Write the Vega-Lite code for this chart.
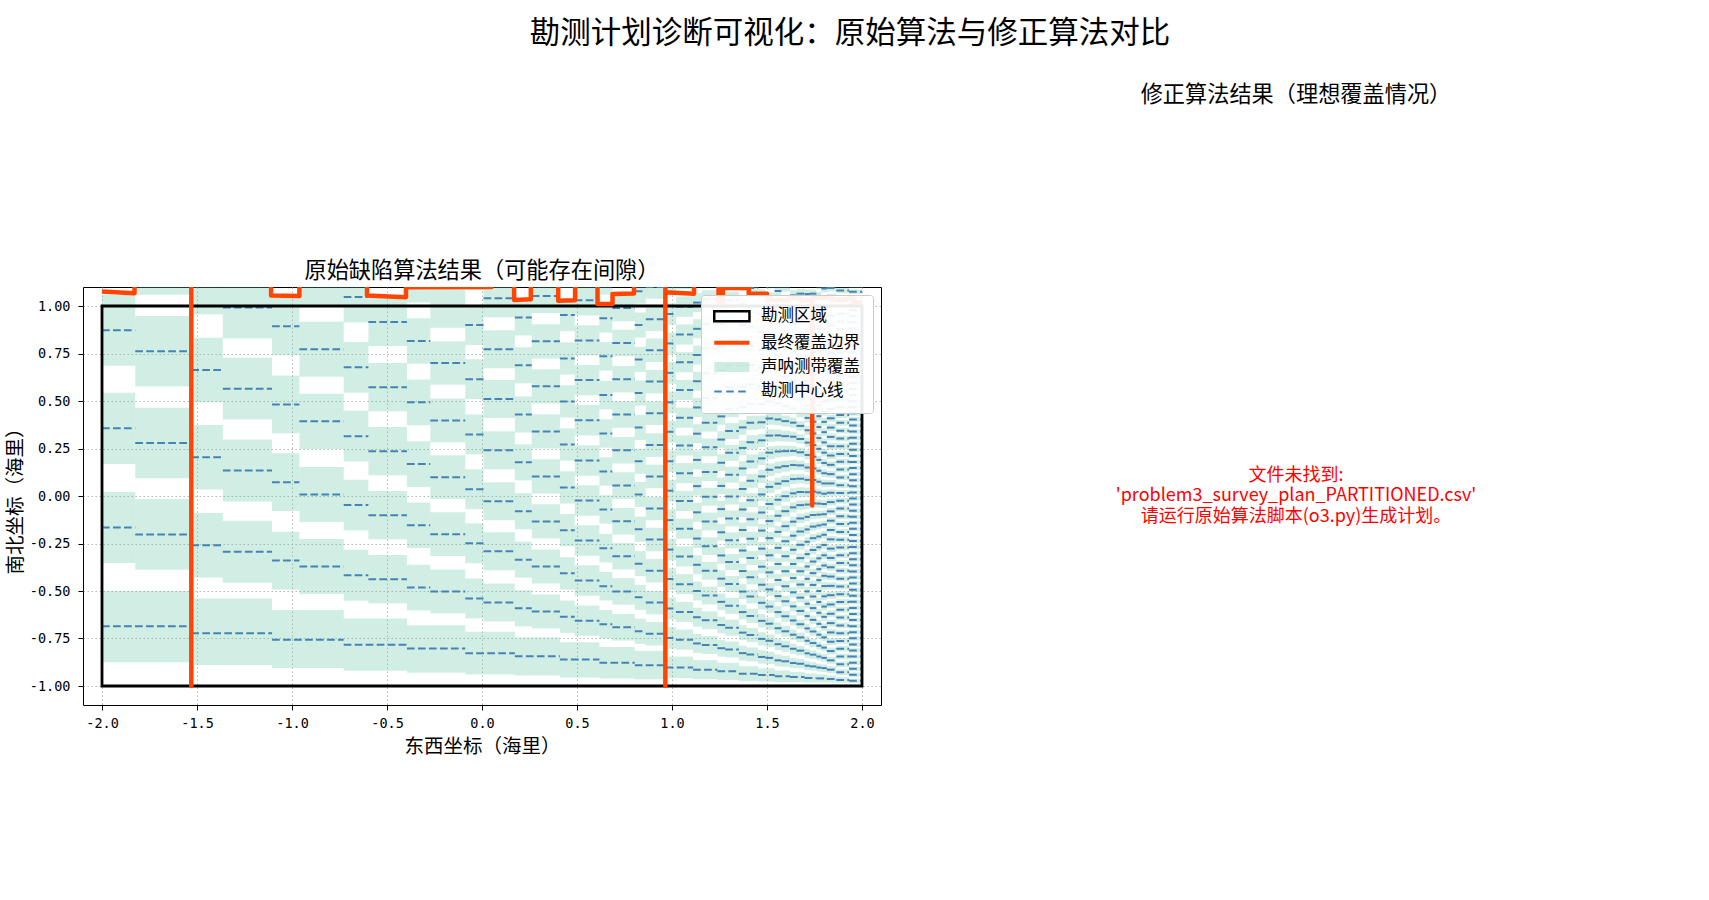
{
"$schema": "https://vega.github.io/schema/vega-lite/v6.json",
"background": "white",
"padding": {"left": 4, "top": 19, "right": 5, "bottom": 5},
"title": {"text": "勘测计划诊断可视化：原始算法与修正算法对比", "fontSize": 30.5, "font": "Noto Sans CJK SC", "fontWeight": "normal", "anchor": "middle", "offset": 34, "color": "black"},
"config": {"font": "Noto Sans CJK SC", "title": {"fontWeight": "normal", "color": "black", "font": "Noto Sans CJK SC"},
 "legend": {"title": null, "orient": "top-right", "offset": 8, "padding": 13, "rowPadding": 7.4, "fillColor": "rgba(255,255,255,0.92)", "strokeColor": "#cccccc", "cornerRadius": 3, "labelFont": "Noto Sans CJK SC", "labelFontSize": 16.5, "labelColor": "black", "labelOffset": 30.5, "labelLimit": 300, "symbolSize": 256}},
"spacing": 16,
"bounds": "flush",
"resolve": {"scale": {"color": "independent"}, "legend": {"color": "independent"}},
"hconcat": [
{
"width": 798, "height": 418,
"title": {"text": "原始缺陷算法结果（可能存在间隙）", "fontSize": 22.2, "offset": 5},
"view": {"stroke": "black", "strokeWidth": 1},
"data": {"values": "k,lo,hi,c\nA,.685,1.059,.872\nA,.169,.543,.356\nA,-.353,.021,-.166\nB,1.059,1.431,1.245\nB,.576,.948,.762\nB,.093,.465,.279\nB,-.388,-.016,-.202\nab,-.875,-.5,-.686\nC,.955,1.295,1.125\nC,.493,.833,.663\nC,.034,.374,.204\nC,-.429,-.089,-.259\nD,.829,1.155,.992\nD,.402,.728,.565\nD,-.029,.297,.134\nD,-.456,-.13,-.293\ncd,-.89,-.54,-.723\nE,.741,1.045,.893\nE,.33,.634,.482\nE,-.079,.225,.073\nE,-.492,-.188,-.34\nF,1.006,1.296,1.151\nF,.627,.917,.772\nF,.248,.538,.393\nF,-.137,.153,.008\nF,-.516,-.226,-.371\nef,-.905,-.6,-.756\nG,.913,1.181,1.047\nG,.543,.811,.677\nG,.181,.449,.315\nG,-.182,.086,-.048\nG,-.551,-.283,-.417\nH,.789,1.043,.916\nH,.446,.7,.573\nH,.109,.363,.236\nH,-.228,.026,-.101\nH,-.565,-.311,-.438\ngh,-.92,-.645,-.783\nI,1.019,1.259,1.139\nI,.696,.936,.816\nI,.373,.613,.493\nI,.048,.288,.168\nI,-.274,-.034,-.154\nI,-.602,-.362,-.482\nJ,.885,1.115,1\nJ,.585,.815,.7\nJ,.283,.513,.398\nJ,-.016,.214,.099\nJ,-.316,-.086,-.201\nJ,-.617,-.387,-.502\nij,-.93,-.68,-.803\nK,1.085,1.295,1.19\nK,.795,1.005,.9\nK,.51,.72,.615\nK,.219,.429,.324\nK,-.069,.141,.036\nK,-.354,-.144,-.249\nK,-.644,-.434,-.539\nL,.941,1.141,1.041\nL,.672,.872,.772\nL,.41,.61,.51\nL,.141,.341,.241\nL,-.127,.073,-.027\nL,-.391,-.191,-.291\nL,-.661,-.461,-.561\nkl,-.94,-.715,-.828\nM,.845,1.035,.94\nM,.593,.783,.688\nM,.334,.524,.429\nM,.082,.272,.177\nM,-.175,.015,-.08\nM,-.43,-.24,-.335\nM,-.686,-.496,-.591\nN,.963,1.143,1.053\nN,.724,.904,.814\nN,.487,.667,.577\nN,.25,.43,.34\nN,.013,.193,.103\nN,-.224,-.044,-.134\nN,-.461,-.281,-.371\nN,-.698,-.518,-.608\nmn,-.945,-.745,-.844\nO,1.095,1.265,1.18\nO,.868,1.038,.953\nO,.639,.809,.724\nO,.413,.583,.498\nO,.186,.356,.271\nO,-.04,.13,.045\nO,-.265,-.095,-.18\nO,-.492,-.322,-.407\nO,-.72,-.55,-.635\nP,.95,1.11,1.03\nP,.739,.899,.819\nP,.53,.69,.61\nP,.319,.479,.399\nP,.107,.267,.187\nP,-.104,.056,-.024\nP,-.314,-.154,-.234\nP,-.525,-.365,-.445\nP,-.736,-.576,-.656\nop,-.955,-.77,-.861\nQ,1.06,1.21,1.135\nQ,.86,1.01,.935\nQ,.66,.81,.735\nQ,.456,.606,.531\nQ,.254,.404,.329\nQ,.054,.204,.129\nQ,-.146,.004,-.071\nQ,-.35,-.2,-.275\nQ,-.55,-.4,-.475\nQ,-.75,-.6,-.675\nR,.92,1.06,.99\nR,.735,.875,.805\nR,.545,.685,.615\nR,.359,.499,.429\nR,.171,.311,.241\nR,-.015,.125,.055\nR,-.203,-.063,-.133\nR,-.387,-.247,-.317\nR,-.572,-.432,-.502\nR,-.761,-.621,-.691\nqr,-.96,-.795,-.877\nS,1.012,1.144,1.078\nS,.834,.966,.9\nS,.653,.785,.719\nS,.476,.608,.542\nS,.295,.427,.361\nS,.117,.249,.183\nS,-.058,.074,.008\nS,-.241,-.109,-.175\nS,-.422,-.29,-.356\nS,-.599,-.467,-.533\nS,-.778,-.646,-.712\nT,1.038,1.162,1.1\nT,.868,.992,.93\nT,.705,.829,.767\nT,.54,.664,.602\nT,.374,.498,.436\nT,.206,.33,.268\nT,.041,.165,.103\nT,-.128,-.004,-.066\nT,-.291,-.167,-.229\nT,-.455,-.331,-.393\nT,-.623,-.499,-.561\nT,-.787,-.663,-.725\nst,-.965,-.815,-.891\nb1,-.959,-.845,-.902\nc1,-.804,-.69,-.747\nc1,-.649,-.535,-.592\nc1,-.494,-.38,-.437\nc1,-.339,-.225,-.282\nc1,-.184,-.07,-.127\nc1,-.029,.085,.028\nc1,.126,.24,.183\nc1,.281,.395,.338\nc1,.436,.55,.493\nc1,.591,.705,.648\nc1,.746,.86,.803\nc1,.901,1.015,.958\nc1,1.056,1.17,1.113\nc2,-.809,-.703,-.756\nc2,-.663,-.557,-.61\nc2,-.517,-.411,-.464\nc2,-.371,-.265,-.318\nc2,-.225,-.119,-.172\nc2,-.079,.027,-.026\nc2,.067,.173,.12\nc2,.213,.319,.266\nc2,.359,.465,.412\nc2,.505,.611,.558\nc2,.651,.757,.704\nc2,.797,.903,.85\nc2,.943,1.049,.996\nc2,1.089,1.195,1.142\nb2,-.964,-.864,-.914\nc3,-.826,-.726,-.776\nc3,-.688,-.588,-.638\nc3,-.55,-.45,-.5\nc3,-.412,-.312,-.362\nc3,-.274,-.174,-.224\nc3,-.136,-.036,-.086\nc3,.002,.102,.052\nc3,.14,.24,.19\nc3,.278,.378,.328\nc3,.416,.516,.466\nc3,.554,.654,.604\nc3,.692,.792,.742\nc3,.83,.93,.88\nc3,.968,1.068,1.018\nc4,-.831,-.737,-.784\nc4,-.701,-.607,-.654\nc4,-.571,-.477,-.524\nc4,-.441,-.347,-.394\nc4,-.311,-.217,-.264\nc4,-.181,-.087,-.134\nc4,-.051,.043,-.004\nc4,.079,.173,.126\nc4,.209,.303,.256\nc4,.339,.433,.386\nc4,.469,.563,.516\nc4,.599,.693,.646\nc4,.729,.823,.776\nc4,.859,.953,.906\nc4,.989,1.083,1.036\nb3,-.968,-.878,-.923\nc5,-.845,-.757,-.801\nc5,-.723,-.635,-.679\nc5,-.601,-.513,-.557\nc5,-.479,-.391,-.435\nc5,-.357,-.269,-.313\nc5,-.235,-.147,-.191\nc5,-.113,-.025,-.069\nc5,.009,.097,.053\nc5,.131,.219,.175\nc5,.253,.341,.297\nc5,.375,.463,.419\nc5,.497,.585,.541\nc5,.619,.707,.663\nc5,.741,.829,.785\nc5,.863,.951,.907\nc5,.985,1.073,1.029\nc6,-.85,-.766,-.808\nc6,-.735,-.651,-.693\nc6,-.62,-.536,-.578\nc6,-.505,-.421,-.463\nc6,-.39,-.306,-.348\nc6,-.275,-.191,-.233\nc6,-.16,-.076,-.118\nc6,-.045,.039,-.003\nc6,.07,.154,.112\nc6,.185,.269,.227\nc6,.3,.384,.342\nc6,.415,.499,.457\nc6,.53,.614,.572\nc6,.645,.729,.687\nc6,.76,.844,.802\nc6,.875,.959,.917\nc6,.99,1.074,1.032\nb4,-.974,-.896,-.935\nc7,-.866,-.788,-.827\nc7,-.758,-.68,-.719\nc7,-.65,-.572,-.611\nc7,-.542,-.464,-.503\nc7,-.434,-.356,-.395\nc7,-.326,-.248,-.287\nc7,-.218,-.14,-.179\nc7,-.11,-.032,-.071\nc7,-.002,.076,.037\nc7,.106,.184,.145\nc7,.214,.292,.253\nc7,.322,.4,.361\nc7,.43,.508,.469\nc7,.538,.616,.577\nc7,.646,.724,.685\nc7,.754,.832,.793\nc7,.862,.94,.901\nc7,.97,1.048,1.009\nc7,1.078,1.156,1.117\nc8,-.871,-.797,-.834\nc8,-.769,-.695,-.732\nc8,-.668,-.594,-.631\nc8,-.566,-.492,-.529\nc8,-.465,-.391,-.428\nc8,-.363,-.289,-.326\nc8,-.262,-.188,-.225\nc8,-.16,-.086,-.123\nc8,-.059,.015,-.022\nc8,.043,.117,.08\nc8,.145,.219,.182\nc8,.246,.32,.283\nc8,.348,.422,.385\nc8,.449,.523,.486\nc8,.551,.625,.588\nc8,.652,.726,.689\nc8,.754,.828,.791\nc8,.855,.929,.892\nc8,.957,1.031,.994\nc8,1.058,1.132,1.095\nb5,-.977,-.907,-.942\nc9,-.882,-.812,-.847\nc9,-.787,-.717,-.752\nc9,-.692,-.622,-.657\nc9,-.597,-.527,-.562\nc9,-.502,-.432,-.467\nc9,-.407,-.337,-.372\nc9,-.312,-.242,-.277\nc9,-.217,-.147,-.182\nc9,-.122,-.052,-.087\nc9,-.027,.043,.008\nc9,.068,.138,.103\nc9,.163,.233,.198\nc9,.258,.328,.293\nc9,.353,.423,.388\nc9,.448,.518,.483\nc9,.543,.613,.578\nc9,.638,.708,.673\nc9,.733,.803,.768\nc9,.828,.898,.863\nc9,.923,.993,.958\nc9,1.018,1.088,1.053\nc10,-.885,-.819,-.852\nc10,-.795,-.729,-.762\nc10,-.705,-.639,-.672\nc10,-.615,-.549,-.582\nc10,-.525,-.459,-.492\nc10,-.435,-.369,-.402\nc10,-.345,-.279,-.312\nc10,-.255,-.189,-.222\nc10,-.165,-.099,-.132\nc10,-.075,-.009,-.042\nc10,.015,.081,.048\nc10,.105,.171,.138\nc10,.195,.261,.228\nc10,.285,.351,.318\nc10,.375,.441,.408\nc10,.465,.531,.498\nc10,.555,.621,.588\nc10,.645,.711,.678\nc10,.735,.801,.768\nc10,.825,.891,.858\nc10,.915,.981,.948\nc10,1.005,1.071,1.038\nc10,1.095,1.161,1.128\nb6,-.98,-.918,-.949\nc11,-.896,-.834,-.865\nc11,-.811,-.749,-.78\nc11,-.727,-.665,-.696\nc11,-.642,-.58,-.611\nc11,-.558,-.496,-.527\nc11,-.473,-.411,-.442\nc11,-.389,-.327,-.358\nc11,-.304,-.242,-.273\nc11,-.22,-.158,-.189\nc11,-.135,-.073,-.104\nc11,-.051,.011,-.02\nc11,.034,.096,.065\nc11,.119,.181,.15\nc11,.203,.265,.234\nc11,.288,.35,.319\nc11,.372,.434,.403\nc11,.457,.519,.488\nc11,.541,.603,.572\nc11,.626,.688,.657\nc11,.71,.772,.741\nc11,.795,.857,.826\nc11,.879,.941,.91\nc11,.964,1.026,.995\nc11,1.048,1.11,1.079\nc12,-.899,-.841,-.87\nc12,-.82,-.762,-.791\nc12,-.741,-.683,-.712\nc12,-.662,-.604,-.633\nc12,-.583,-.525,-.554\nc12,-.504,-.446,-.475\nc12,-.425,-.367,-.396\nc12,-.346,-.288,-.317\nc12,-.267,-.209,-.238\nc12,-.188,-.13,-.159\nc12,-.109,-.051,-.08\nc12,-.03,.028,-.001\nc12,.049,.107,.078\nc12,.128,.186,.157\nc12,.207,.265,.236\nc12,.286,.344,.315\nc12,.365,.423,.394\nc12,.444,.502,.473\nc12,.523,.581,.552\nc12,.602,.66,.631\nc12,.681,.739,.71\nc12,.76,.818,.789\nc12,.839,.897,.868\nc12,.918,.976,.947\nc12,.997,1.055,1.026\nc12,1.076,1.134,1.105\nb7,-.98,-.926,-.953\nc13,-.906,-.852,-.879\nc13,-.831,-.777,-.804\nc13,-.757,-.703,-.73\nc13,-.682,-.628,-.655\nc13,-.608,-.554,-.581\nc13,-.534,-.48,-.507\nc13,-.459,-.405,-.432\nc13,-.385,-.331,-.358\nc13,-.31,-.256,-.283\nc13,-.236,-.182,-.209\nc13,-.162,-.108,-.135\nc13,-.087,-.033,-.06\nc13,-.013,.041,.014\nc13,.062,.116,.089\nc13,.136,.19,.163\nc13,.21,.264,.237\nc13,.285,.339,.312\nc13,.359,.413,.386\nc13,.434,.488,.461\nc13,.508,.562,.535\nc13,.582,.636,.609\nc13,.657,.711,.684\nc13,.731,.785,.758\nc13,.806,.86,.833\nc13,.88,.934,.907\nc13,.954,1.008,.981\nc13,1.029,1.083,1.056\nc14,-.908,-.858,-.883\nc14,-.839,-.789,-.814\nc14,-.769,-.719,-.744\nc14,-.7,-.65,-.675\nc14,-.63,-.58,-.605\nc14,-.56,-.51,-.535\nc14,-.491,-.441,-.466\nc14,-.421,-.371,-.396\nc14,-.352,-.302,-.327\nc14,-.282,-.232,-.257\nc14,-.212,-.162,-.187\nc14,-.143,-.093,-.118\nc14,-.073,-.023,-.048\nc14,-.004,.046,.021\nc14,.066,.116,.091\nc14,.136,.186,.161\nc14,.205,.255,.23\nc14,.275,.325,.3\nc14,.344,.394,.369\nc14,.414,.464,.439\nc14,.484,.534,.509\nc14,.553,.603,.578\nc14,.623,.673,.648\nc14,.692,.742,.717\nc14,.762,.812,.787\nc14,.832,.882,.857\nc14,.901,.951,.926\nc14,.971,1.021,.996\nc14,1.04,1.09,1.065\nb8,-.982,-.934,-.958\nc15,-.917,-.869,-.893\nc15,-.852,-.804,-.828\nc15,-.786,-.738,-.762\nc15,-.721,-.673,-.697\nc15,-.656,-.608,-.632\nc15,-.591,-.543,-.567\nc15,-.526,-.478,-.502\nc15,-.46,-.412,-.436\nc15,-.395,-.347,-.371\nc15,-.33,-.282,-.306\nc15,-.265,-.217,-.241\nc15,-.2,-.152,-.176\nc15,-.134,-.086,-.11\nc15,-.069,-.021,-.045\nc15,-.004,.044,.02\nc15,.061,.109,.085\nc15,.126,.174,.15\nc15,.192,.24,.216\nc15,.257,.305,.281\nc15,.322,.37,.346\nc15,.387,.435,.411\nc15,.452,.5,.476\nc15,.518,.566,.542\nc15,.583,.631,.607\nc15,.648,.696,.672\nc15,.713,.761,.737\nc15,.778,.826,.802\nc15,.844,.892,.868\nc15,.909,.957,.933\nc15,.974,1.022,.998\nc15,1.039,1.087,1.063\nc16,-.919,-.875,-.897\nc16,-.857,-.813,-.835\nc16,-.796,-.752,-.774\nc16,-.735,-.691,-.713\nc16,-.674,-.63,-.652\nc16,-.612,-.568,-.59\nc16,-.551,-.507,-.529\nc16,-.49,-.446,-.468\nc16,-.428,-.384,-.406\nc16,-.367,-.323,-.345\nc16,-.306,-.262,-.284\nc16,-.244,-.2,-.222\nc16,-.183,-.139,-.161\nc16,-.122,-.078,-.1\nc16,-.061,-.017,-.039\nc16,.001,.045,.023\nc16,.062,.106,.084\nc16,.123,.167,.145\nc16,.185,.229,.207\nc16,.246,.29,.268\nc16,.307,.351,.329\nc16,.369,.413,.391\nc16,.43,.474,.452\nc16,.491,.535,.513\nc16,.553,.597,.575\nc16,.614,.658,.636\nc16,.675,.719,.697\nc16,.736,.78,.758\nc16,.798,.842,.82\nc16,.859,.903,.881\nc16,.92,.964,.942\nc16,.982,1.026,1.004\nc16,1.043,1.087,1.065\nb9,-.981,-.939,-.96\nc17,-.924,-.882,-.903\nc17,-.866,-.824,-.845\nc17,-.809,-.767,-.788\nc17,-.751,-.709,-.73\nc17,-.694,-.652,-.673\nc17,-.636,-.594,-.615\nc17,-.579,-.537,-.558\nc17,-.521,-.479,-.5\nc17,-.464,-.422,-.443\nc17,-.406,-.364,-.385\nc17,-.349,-.307,-.328\nc17,-.291,-.249,-.27\nc17,-.234,-.192,-.213\nc17,-.176,-.134,-.155\nc17,-.119,-.077,-.098\nc17,-.061,-.019,-.04\nc17,-.003,.039,.018\nc17,.054,.096,.075\nc17,.112,.154,.133\nc17,.169,.211,.19\nc17,.227,.269,.248\nc17,.284,.326,.305\nc17,.342,.384,.363\nc17,.399,.441,.42\nc17,.457,.499,.478\nc17,.514,.556,.535\nc17,.572,.614,.593\nc17,.629,.671,.65\nc17,.687,.729,.708\nc17,.744,.786,.765\nc17,.802,.844,.823\nc17,.859,.901,.88\nc17,.917,.959,.938\nc17,.974,1.016,.995\nc17,1.032,1.074,1.053\nc17,1.089,1.131,1.11\nc18,-.926,-.886,-.906\nc18,-.872,-.832,-.852\nc18,-.818,-.778,-.798\nc18,-.764,-.724,-.744\nc18,-.71,-.67,-.69\nc18,-.656,-.616,-.636\nc18,-.602,-.562,-.582\nc18,-.548,-.508,-.528\nc18,-.494,-.454,-.474\nc18,-.44,-.4,-.42\nc18,-.386,-.346,-.366\nc18,-.332,-.292,-.312\nc18,-.278,-.238,-.258\nc18,-.224,-.184,-.204\nc18,-.17,-.13,-.15\nc18,-.116,-.076,-.096\nc18,-.062,-.022,-.042\nc18,-.008,.032,.012\nc18,.046,.086,.066\nc18,.1,.14,.12\nc18,.154,.194,.174\nc18,.208,.248,.228\nc18,.262,.302,.282\nc18,.316,.356,.336\nc18,.37,.41,.39\nc18,.424,.464,.444\nc18,.478,.518,.498\nc18,.532,.572,.552\nc18,.586,.626,.606\nc18,.64,.68,.66\nc18,.694,.734,.714\nc18,.748,.788,.768\nc18,.802,.842,.822\nc18,.856,.896,.876\nc18,.91,.95,.93\nc18,.964,1.004,.984\nc18,1.018,1.058,1.038\nc18,1.072,1.112,1.092\nb10,-.981,-.945,-.963\nc19,-.932,-.896,-.914\nc19,-.883,-.847,-.865\nc19,-.834,-.798,-.816\nc19,-.785,-.749,-.767\nc19,-.736,-.7,-.718\nc19,-.687,-.651,-.669\nc19,-.638,-.602,-.62\nc19,-.589,-.553,-.571\nc19,-.54,-.504,-.522\nc19,-.491,-.455,-.473\nc19,-.442,-.406,-.424\nc19,-.393,-.357,-.375\nc19,-.344,-.308,-.326\nc19,-.295,-.259,-.277\nc19,-.246,-.21,-.228\nc19,-.197,-.161,-.179\nc19,-.148,-.112,-.13\nc19,-.099,-.063,-.081\nc19,-.05,-.014,-.032\nc19,-.001,.035,.017\nc19,.048,.084,.066\nc19,.097,.133,.115\nc19,.146,.182,.164\nc19,.195,.231,.213\nc19,.244,.28,.262\nc19,.293,.329,.311\nc19,.342,.378,.36\nc19,.391,.427,.409\nc19,.44,.476,.458\nc19,.489,.525,.507\nc19,.538,.574,.556\nc19,.587,.623,.605\nc19,.636,.672,.654\nc19,.685,.721,.703\nc19,.734,.77,.752\nc19,.783,.819,.801\nc19,.832,.868,.85\nc19,.881,.917,.899\nc19,.93,.966,.948\nc19,.979,1.015,.997\nc19,1.028,1.064,1.046\nc19,1.077,1.113,1.095\nb11,-.983,-.953,-.968\nc20,-.942,-.912,-.927\nc20,-.901,-.871,-.886\nc20,-.86,-.83,-.845\nc20,-.819,-.789,-.804\nc20,-.778,-.748,-.763\nc20,-.737,-.707,-.722\nc20,-.696,-.666,-.681\nc20,-.655,-.625,-.64\nc20,-.614,-.584,-.599\nc20,-.573,-.543,-.558\nc20,-.532,-.502,-.517\nc20,-.491,-.461,-.476\nc20,-.45,-.42,-.435\nc20,-.409,-.379,-.394\nc20,-.368,-.338,-.353\nc20,-.327,-.297,-.312\nc20,-.286,-.256,-.271\nc20,-.245,-.215,-.23\nc20,-.204,-.174,-.189\nc20,-.163,-.133,-.148\nc20,-.122,-.092,-.107\nc20,-.081,-.051,-.066\nc20,-.04,-.01,-.025\nc20,.001,.031,.016\nc20,.042,.072,.057\nc20,.083,.113,.098\nc20,.124,.154,.139\nc20,.165,.195,.18\nc20,.206,.236,.221\nc20,.247,.277,.262\nc20,.288,.318,.303\nc20,.329,.359,.344\nc20,.37,.4,.385\nc20,.411,.441,.426\nc20,.452,.482,.467\nc20,.493,.523,.508\nc20,.534,.564,.549\nc20,.575,.605,.59\nc20,.616,.646,.631\nc20,.657,.687,.672\nc20,.698,.728,.713\nc20,.739,.769,.754\nc20,.78,.81,.795\nc20,.821,.851,.836\nc20,.862,.892,.877\nc20,.903,.933,.918\nc20,.944,.974,.959\nc20,.985,1.015,1\nc20,1.026,1.056,1.041\nc20,1.067,1.097,1.082\nb12,-.985,-.961,-.973\nc21,-.953,-.929,-.941\nc21,-.921,-.897,-.909\nc21,-.889,-.865,-.877\nc21,-.857,-.833,-.845\nc21,-.825,-.801,-.813\nc21,-.793,-.769,-.781\nc21,-.761,-.737,-.749\nc21,-.729,-.705,-.717\nc21,-.697,-.673,-.685\nc21,-.665,-.641,-.653\nc21,-.633,-.609,-.621\nc21,-.601,-.577,-.589\nc21,-.569,-.545,-.557\nc21,-.537,-.513,-.525\nc21,-.505,-.481,-.493\nc21,-.473,-.449,-.461\nc21,-.441,-.417,-.429\nc21,-.409,-.385,-.397\nc21,-.377,-.353,-.365\nc21,-.345,-.321,-.333\nc21,-.313,-.289,-.301\nc21,-.281,-.257,-.269\nc21,-.249,-.225,-.237\nc21,-.217,-.193,-.205\nc21,-.185,-.161,-.173\nc21,-.153,-.129,-.141\nc21,-.121,-.097,-.109\nc21,-.089,-.065,-.077\nc21,-.057,-.033,-.045\nc21,-.025,-.001,-.013\nc21,.007,.031,.019\nc21,.039,.063,.051\nc21,.071,.095,.083\nc21,.103,.127,.115\nc21,.135,.159,.147\nc21,.167,.191,.179\nc21,.199,.223,.211\nc21,.231,.255,.243\nc21,.263,.287,.275\nc21,.295,.319,.307\nc21,.327,.351,.339\nc21,.359,.383,.371\nc21,.391,.415,.403\nc21,.423,.447,.435\nc21,.455,.479,.467\nc21,.487,.511,.499\nc21,.519,.543,.531\nc21,.551,.575,.563\nc21,.583,.607,.595\nc21,.615,.639,.627\nc21,.647,.671,.659\nc21,.679,.703,.691\nc21,.711,.735,.723\nc21,.743,.767,.755\nc21,.775,.799,.787\nc21,.807,.831,.819\nc21,.839,.863,.851\nc21,.871,.895,.883\nc21,.903,.927,.915\nc21,.935,.959,.947\nc21,.967,.991,.979\nc21,.999,1.023,1.011\nc21,1.031,1.055,1.043\nc21,1.063,1.087,1.075\nc21,1.095,1.119,1.107", "format": {"type": "csv", "parse": {"lo": "number", "hi": "number", "c": "number"}}},
"transform": [{"lookup": "k", "from": {"data": {"values": [
{"k":"A","x0":-2,"x1":-1.825},{"k":"B","x0":-1.825,"x1":-1.53},{"k":"ab","x0":-2,"x1":-1.53},
{"k":"C","x0":-1.53,"x1":-1.364},{"k":"D","x0":-1.364,"x1":-1.105},{"k":"cd","x0":-1.53,"x1":-1.105},
{"k":"E","x0":-1.105,"x1":-0.961},{"k":"F","x0":-0.961,"x1":-0.728},{"k":"ef","x0":-1.105,"x1":-0.728},
{"k":"G","x0":-0.728,"x1":-0.598},{"k":"H","x0":-0.598,"x1":-0.395},{"k":"gh","x0":-0.728,"x1":-0.395},
{"k":"I","x0":-0.395,"x1":-0.272},{"k":"J","x0":-0.272,"x1":-0.088},{"k":"ij","x0":-0.395,"x1":-0.088},
{"k":"K","x0":-0.088,"x1":0.008},{"k":"L","x0":0.008,"x1":0.173},{"k":"kl","x0":-0.088,"x1":0.173},
{"k":"M","x0":0.173,"x1":0.262},{"k":"N","x0":0.262,"x1":0.41},{"k":"mn","x0":0.173,"x1":0.41},
{"k":"O","x0":0.41,"x1":0.488},{"k":"P","x0":0.488,"x1":0.618},{"k":"op","x0":0.41,"x1":0.618},
{"k":"Q","x0":0.618,"x1":0.686},{"k":"R","x0":0.686,"x1":0.804},{"k":"qr","x0":0.618,"x1":0.804},
{"k":"S","x0":0.804,"x1":0.862},{"k":"T","x0":0.862,"x1":0.965},{"k":"st","x0":0.804,"x1":0.965},
{"k":"c1","x0":0.967,"x1":1.021},{"k":"c2","x0":1.021,"x1":1.111},{"k":"b1","x0":0.967,"x1":1.111},
{"k":"c3","x0":1.111,"x1":1.157},{"k":"c4","x0":1.157,"x1":1.239},{"k":"b2","x0":1.111,"x1":1.239},
{"k":"c5","x0":1.239,"x1":1.28},{"k":"c6","x0":1.28,"x1":1.352},{"k":"b3","x0":1.239,"x1":1.352},
{"k":"c7","x0":1.352,"x1":1.392},{"k":"c8","x0":1.392,"x1":1.453},{"k":"b4","x0":1.352,"x1":1.453},
{"k":"c9","x0":1.453,"x1":1.492},{"k":"c10","x0":1.492,"x1":1.54},{"k":"b5","x0":1.453,"x1":1.54},
{"k":"c11","x0":1.54,"x1":1.576},{"k":"c12","x0":1.576,"x1":1.621},{"k":"b6","x0":1.54,"x1":1.621},
{"k":"c13","x0":1.621,"x1":1.655},{"k":"c14","x0":1.655,"x1":1.698},{"k":"b7","x0":1.621,"x1":1.698},
{"k":"c15","x0":1.698,"x1":1.725},{"k":"c16","x0":1.725,"x1":1.76},{"k":"b8","x0":1.698,"x1":1.76},
{"k":"c17","x0":1.76,"x1":1.786},{"k":"c18","x0":1.786,"x1":1.815},{"k":"b9","x0":1.76,"x1":1.815},
{"k":"c19","x0":1.815,"x1":1.865},{"k":"b10","x0":1.815,"x1":1.865},
{"k":"c20","x0":1.865,"x1":1.932},{"k":"b11","x0":1.865,"x1":1.932},
{"k":"c21","x0":1.932,"x1":2},{"k":"b12","x0":1.932,"x1":2}
]}, "key": "k", "fields": ["x0", "x1"]}}],
"layer": [
{"mark": {"type": "rect", "clip": true, "fillOpacity": 0.3},
 "encoding": {
  "x": {"field": "x0", "type": "quantitative", "scale": {"domain": [-2.1, 2.1], "nice": false, "zero": false},
   "axis": {"title": "东西坐标（海里）", "values": [-2, -1.5, -1, -0.5, 0, 0.5, 1, 1.5, 2], "labelExpr": "replace(format(datum.value, '.1f'), '\u2212', '-')", "grid": true, "gridDash": [1.5, 2.5], "gridColor": "#b0b0b0", "gridOpacity": 0.9, "domain": false, "ticks": true, "tickColor": "black", "tickSize": 5, "labelFont": "DejaVu Sans Mono", "labelFontSize": 13.5, "labelColor": "black", "labelPadding": 6.5, "labelFlush": false, "labelOverlap": false, "titleFont": "Noto Sans CJK SC", "titleFontSize": 19.5, "titleFontWeight": "normal", "titleColor": "black", "titlePadding": 7, "zindex": 0}},
  "x2": {"field": "x1"},
  "y": {"field": "lo", "type": "quantitative", "scale": {"domain": [-1.1, 1.1], "nice": false, "zero": false},
   "axis": {"title": "南北坐标（海里）", "values": [-1, -0.75, -0.5, -0.25, 0, 0.25, 0.5, 0.75, 1], "labelExpr": "replace(format(datum.value, '.2f'), '\u2212', '-')", "grid": true, "gridDash": [1.5, 2.5], "gridColor": "#b0b0b0", "gridOpacity": 0.9, "domain": false, "ticks": true, "tickColor": "black", "tickSize": 5, "labelFont": "DejaVu Sans Mono", "labelFontSize": 13.5, "labelColor": "black", "labelPadding": 8, "labelFlush": false, "labelOverlap": false, "titleFont": "Noto Sans CJK SC", "titleFontSize": 19.5, "titleFontWeight": "normal", "titleColor": "black", "titlePadding": 4, "zindex": 0}},
  "y2": {"field": "hi"},
  "color": {"datum": "声呐测带覆盖", "scale": {"domain": ["勘测区域", "最终覆盖边界", "声呐测带覆盖", "勘测中心线"], "range": ["#000000", "#ff4500", "#62c6a2", "#4682b4"]},
   "legend": {"encode": {"symbols": {"update": {
     "shape": {"signal": "datum.value === '最终覆盖边界' || datum.value === '勘测中心线' ? 'M-1,0H3.4' : 'M-1,-0.62H3.4V0.62H-1Z'"},
     "fill": {"signal": "datum.value === '声呐测带覆盖' ? '#62c6a2' : '#ffffff'"},
     "fillOpacity": {"signal": "datum.value === '声呐测带覆盖' ? 0.3 : 0"},
     "stroke": {"signal": "datum.value === '勘测区域' ? '#000000' : datum.value === '最终覆盖边界' ? '#ff4500' : datum.value === '勘测中心线' ? '#4682b4' : '#ffffff'"},
     "strokeOpacity": {"signal": "datum.value === '声呐测带覆盖' ? 0 : 1"},
     "strokeWidth": {"signal": "datum.value === '勘测区域' ? 2.5 : datum.value === '最终覆盖边界' ? 4 : 2"},
     "strokeDash": {"signal": "datum.value === '勘测中心线' ? [7.5, 4.5] : [1, 0]"},
     "opacity": {"value": 1}
    }}}}}
 }},
{"mark": {"type": "rule", "clip": true, "strokeDash": [7.7, 3.3], "strokeWidth": 2},
 "encoding": {"x": {"field": "x0", "type": "quantitative"}, "x2": {"field": "x1"}, "y": {"field": "c", "type": "quantitative"},
  "color": {"datum": "勘测中心线", "legend": {"encode": {"symbols": {"update": {
     "shape": {"signal": "datum.value === '最终覆盖边界' || datum.value === '勘测中心线' ? 'M-1,0H3.4' : 'M-1,-0.62H3.4V0.62H-1Z'"},
     "fill": {"signal": "datum.value === '声呐测带覆盖' ? '#62c6a2' : '#ffffff'"},
     "fillOpacity": {"signal": "datum.value === '声呐测带覆盖' ? 0.3 : 0"},
     "stroke": {"signal": "datum.value === '勘测区域' ? '#000000' : datum.value === '最终覆盖边界' ? '#ff4500' : datum.value === '勘测中心线' ? '#4682b4' : '#ffffff'"},
     "strokeOpacity": {"signal": "datum.value === '声呐测带覆盖' ? 0 : 1"},
     "strokeWidth": {"signal": "datum.value === '勘测区域' ? 2.5 : datum.value === '最终覆盖边界' ? 4 : 2"},
     "strokeDash": {"signal": "datum.value === '勘测中心线' ? [7.5, 4.5] : [1, 0]"},
     "opacity": {"value": 1}
    }}}}}}},
{"data": {"values": [{"x": -2, "x2": 2, "y": -1, "y2": 1}]},
 "mark": {"type": "rect", "filled": false, "strokeWidth": 2.8},
 "encoding": {"x": {"field": "x", "type": "quantitative"}, "x2": {"field": "x2"}, "y": {"field": "y", "type": "quantitative"}, "y2": {"field": "y2"},
  "color": {"datum": "勘测区域", "legend": {"encode": {"symbols": {"update": {
     "shape": {"signal": "datum.value === '最终覆盖边界' || datum.value === '勘测中心线' ? 'M-1,0H3.4' : 'M-1,-0.62H3.4V0.62H-1Z'"},
     "fill": {"signal": "datum.value === '声呐测带覆盖' ? '#62c6a2' : '#ffffff'"},
     "fillOpacity": {"signal": "datum.value === '声呐测带覆盖' ? 0.3 : 0"},
     "stroke": {"signal": "datum.value === '勘测区域' ? '#000000' : datum.value === '最终覆盖边界' ? '#ff4500' : datum.value === '勘测中心线' ? '#4682b4' : '#ffffff'"},
     "strokeOpacity": {"signal": "datum.value === '声呐测带覆盖' ? 0 : 1"},
     "strokeWidth": {"signal": "datum.value === '勘测区域' ? 2.5 : datum.value === '最终覆盖边界' ? 4 : 2"},
     "strokeDash": {"signal": "datum.value === '勘测中心线' ? [7.5, 4.5] : [1, 0]"},
     "opacity": {"value": 1}
    }}}}}}},
{"data": {"values": [
{"i":1,"x":-2.0,"y":1.076},{"i":2,"x":-1.829,"y":1.067},{"i":3,"x":-1.829,"y":1.3},{"i":4,"x":-1.53,"y":1.3},{"i":5,"x":-1.53,"y":-1.0},{"i":6,"x":-1.53,"y":1.3},
{"i":7,"x":-1.11,"y":1.3},{"i":8,"x":-1.11,"y":1.055},{"i":9,"x":-0.961,"y":1.053},{"i":10,"x":-0.961,"y":1.3},{"i":11,"x":-0.605,"y":1.3},{"i":12,"x":-0.605,"y":1.055},
{"i":13,"x":-0.4,"y":1.046},{"i":14,"x":-0.4,"y":1.099},{"i":15,"x":0.05,"y":1.1},{"i":16,"x":0.05,"y":1.3},{"i":17,"x":0.169,"y":1.3},{"i":18,"x":0.169,"y":1.032},
{"i":19,"x":0.257,"y":1.035},{"i":20,"x":0.257,"y":1.3},{"i":21,"x":0.401,"y":1.3},{"i":22,"x":0.401,"y":1.028},{"i":23,"x":0.49,"y":1.03},{"i":24,"x":0.49,"y":1.3},
{"i":25,"x":0.608,"y":1.3},{"i":26,"x":0.608,"y":1.011},{"i":27,"x":0.687,"y":1.011},{"i":28,"x":0.687,"y":1.063},{"i":29,"x":0.8,"y":1.066},{"i":30,"x":0.8,"y":1.3},
{"i":31,"x":0.965,"y":1.3},{"i":32,"x":0.965,"y":-1.0},{"i":33,"x":0.965,"y":1.072},{"i":34,"x":1.116,"y":1.065},{"i":35,"x":1.116,"y":1.3},{"i":36,"x":1.245,"y":1.3},
{"i":37,"x":1.245,"y":1.02},{"i":38,"x":1.268,"y":1.02},{"i":39,"x":1.268,"y":1.095},{"i":40,"x":1.404,"y":1.095},{"i":41,"x":1.404,"y":1.065},{"i":42,"x":1.5,"y":1.065},
{"i":43,"x":1.5,"y":1.032},{"i":44,"x":1.62,"y":1.032},{"i":45,"x":1.62,"y":1.044},{"i":46,"x":1.676,"y":1.044},{"i":47,"x":1.676,"y":1.03},{"i":48,"x":1.738,"y":1.03},
{"i":49,"x":1.738,"y":-0.05},{"i":50,"x":1.738,"y":1.044},{"i":51,"x":1.835,"y":1.044},{"i":52,"x":1.835,"y":1.032},{"i":53,"x":1.92,"y":1.032},{"i":54,"x":1.92,"y":1.04},
{"i":55,"x":1.957,"y":1.04},{"i":56,"x":1.957,"y":1.018},{"i":57,"x":2.0,"y":1.018}
]},
 "mark": {"type": "line", "clip": true, "strokeWidth": 4.5, "strokeJoin": "round"},
 "encoding": {"x": {"field": "x", "type": "quantitative"}, "y": {"field": "y", "type": "quantitative"}, "order": {"field": "i", "type": "quantitative"},
  "color": {"datum": "最终覆盖边界", "legend": {"encode": {"symbols": {"update": {
     "shape": {"signal": "datum.value === '最终覆盖边界' || datum.value === '勘测中心线' ? 'M-1,0H3.4' : 'M-1,-0.62H3.4V0.62H-1Z'"},
     "fill": {"signal": "datum.value === '声呐测带覆盖' ? '#62c6a2' : '#ffffff'"},
     "fillOpacity": {"signal": "datum.value === '声呐测带覆盖' ? 0.3 : 0"},
     "stroke": {"signal": "datum.value === '勘测区域' ? '#000000' : datum.value === '最终覆盖边界' ? '#ff4500' : datum.value === '勘测中心线' ? '#4682b4' : '#ffffff'"},
     "strokeOpacity": {"signal": "datum.value === '声呐测带覆盖' ? 0 : 1"},
     "strokeWidth": {"signal": "datum.value === '勘测区域' ? 2.5 : datum.value === '最终覆盖边界' ? 4 : 2"},
     "strokeDash": {"signal": "datum.value === '勘测中心线' ? [7.5, 4.5] : [1, 0]"},
     "opacity": {"value": 1}
    }}}}}}}
]
},
{
"width": 798, "height": 418,
"view": {"stroke": null},
"title": {"text": "修正算法结果（理想覆盖情况）", "fontSize": 22.2, "offset": 181},
"data": {"values": [{"x": 0.5, "y": 0.5, "t": "文件未找到:\n'problem3_survey_plan_PARTITIONED.csv'\n请运行原始算法脚本(o3.py)生成计划。"}]},
"mark": {"type": "text", "color": "#ff0000", "fontSize": 18, "lineHeight": 20.5, "dy": -20.5, "lineBreak": "\n", "align": "center", "baseline": "middle", "font": "Noto Sans CJK SC"},
"encoding": {
 "x": {"field": "x", "type": "quantitative", "scale": {"domain": [0, 1]}, "axis": null},
 "y": {"field": "y", "type": "quantitative", "scale": {"domain": [0, 1]}, "axis": null},
 "text": {"field": "t"}
}
}
]
}
